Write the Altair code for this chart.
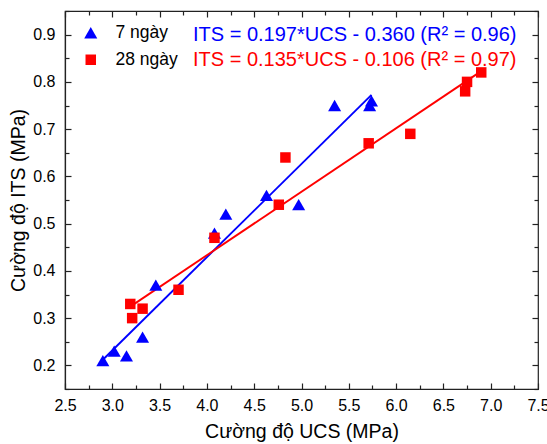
import altair as alt
import pandas as pd

# ---- data ----
ucs_7 = [2.90, 3.02, 3.15, 3.32, 3.46, 4.08, 4.20, 4.63, 4.97, 5.35, 5.72, 5.74]
its_7 = [0.21, 0.23, 0.22, 0.26, 0.37, 0.48, 0.52, 0.56, 0.54, 0.75, 0.75, 0.76]
ucs_28 = [3.19, 3.21, 3.32, 3.70, 4.08, 4.76, 4.83, 5.71, 6.15, 6.73, 6.75, 6.90]
its_28 = [0.33, 0.30, 0.32, 0.36, 0.47, 0.54, 0.64, 0.67, 0.69, 0.78, 0.80, 0.82]
series_names = ["7 ngày", "28 ngày"]
series_colors = ["#0000ff", "#ff0000"]
series_shapes = ["triangle-up", "square"]
equations = ["ITS = 0.197*UCS - 0.360 (R² = 0.96)",
             "ITS = 0.135*UCS - 0.106 (R² = 0.97)"]
x_major = [2.5, 3.0, 3.5, 4.0, 4.5, 5.0, 5.5, 6.0, 6.5, 7.0, 7.5]
x_all = [2.5 + 0.25 * i for i in range(21)]
y_major = [0.2, 0.3, 0.4, 0.5, 0.6, 0.7, 0.8, 0.9]
y_all = [round(0.15 + 0.05 * i, 2) for i in range(17)]

df = pd.DataFrame({
    "UCS": ucs_7 + ucs_28,
    "ITS": its_7 + its_28,
    "series": [series_names[0]] * len(ucs_7) + [series_names[1]] * len(ucs_28),
})

W, H = 473, 378
FONT = "Liberation Sans"

xs = alt.Scale(domain=[2.5, 7.5], nice=False, zero=False)
ys = alt.Scale(domain=[0.15, 0.95], nice=False, zero=False)

legend = alt.Legend(title=None, orient="none", legendX=17, legendY=13,
                    labelFontSize=17.5, labelFont=FONT, labelColor="black",
                    symbolSize=130, symbolStrokeWidth=0, rowPadding=8,
                    labelOffset=16, padding=0, symbolOpacity=1)
color_scale = alt.Scale(domain=series_names, range=series_colors)
shape_scale = alt.Scale(domain=series_names, range=series_shapes)

x_tick_size = {"condition": {"test": "abs(datum.value*2 - round(datum.value*2)) < 0.01", "value": 6}, "value": 4}
y_tick_size = {"condition": {"test": "abs(datum.value*10 - round(datum.value*10)) < 0.01", "value": 6}, "value": 4}

# main axes (labels + titles)
x_main = alt.X("UCS:Q", scale=xs, axis=alt.Axis(
    values=x_major, format=".1f", ticks=False, tickSize=0, domain=True, domainColor="#222",
    domainWidth=1.2, grid=False, labelFontSize=16, labelFont=FONT, labelColor="black",
    labelPadding=8, labelFlush=False, labelOverlap=False,
    title="Cường độ UCS (MPa)", titleFontSize=19.5, titleFont=FONT,
    titleFontWeight="normal", titleColor="black", titlePadding=9))
y_main = alt.Y("ITS:Q", scale=ys, axis=alt.Axis(
    values=y_major, format=".1f", ticks=False, tickSize=0, domain=True, domainColor="#222",
    domainWidth=1.2, grid=False, labelFontSize=16, labelFont=FONT, labelColor="black",
    labelPadding=10, labelFlush=False, title="Cường độ ITS (MPa)", titleFontSize=19.5,
    titleFont=FONT, titleFontWeight="normal", titleColor="black", titlePadding=4))


def tick_axis(orient, values, ts):
    return alt.Axis(orient=orient, offset=-(H if orient in ("top", "bottom") else W),
                    values=values, labels=False, domain=False, ticks=True, tickSize=ts,
                    tickColor="#222", tickWidth=1.2, grid=False, title=None)


lines = alt.Chart(df).transform_regression(
    "UCS", "ITS", groupby=["series"]).mark_line(strokeWidth=1.9).encode(
    x=alt.X("UCS:Q", scale=xs, axis=tick_axis("top", x_all, x_tick_size)),
    y=alt.Y("ITS:Q", scale=ys, axis=tick_axis("right", y_all, y_tick_size)),
    color=alt.Color("series:N", scale=color_scale, legend=legend))

points = alt.Chart(df).mark_point(filled=True, opacity=1).encode(
    x=x_main, y=y_main,
    color=alt.Color("series:N", scale=color_scale, legend=legend),
    shape=alt.Shape("series:N", scale=shape_scale, legend=legend),
    size=alt.Size("series:N", scale=alt.Scale(domain=series_names, range=[170, 110]), legend=None))

ghost = alt.Chart(df).mark_point(opacity=0).encode(
    x=alt.X("UCS:Q", scale=xs, axis=tick_axis("bottom", x_all, x_tick_size)),
    y=alt.Y("ITS:Q", scale=ys, axis=tick_axis("left", y_all, y_tick_size)))

eq1 = alt.Chart(pd.DataFrame({"t": [equations[0]]})).mark_text(
    align="left", baseline="alphabetic", fontSize=20, font=FONT, color=series_colors[0]).encode(
    text="t:N", x=alt.value(128), y=alt.value(30))
eq2 = alt.Chart(pd.DataFrame({"t": [equations[1]]})).mark_text(
    align="left", baseline="alphabetic", fontSize=20, font=FONT, color=series_colors[1]).encode(
    text="t:N", x=alt.value(128), y=alt.value(55))

chart = alt.layer(lines, points, ghost, eq1, eq2).resolve_axis(
    x="independent", y="independent").properties(
    width=W, height=H,
    autosize=alt.AutoSizeParams(type="none"),
    padding={"left": 65, "top": 11, "right": 9, "bottom": 55},
    background="white",
).configure_view(stroke="#222", strokeWidth=1.2)

chart.save("out.html", embed_options={"renderer": "svg", "actions": False})
